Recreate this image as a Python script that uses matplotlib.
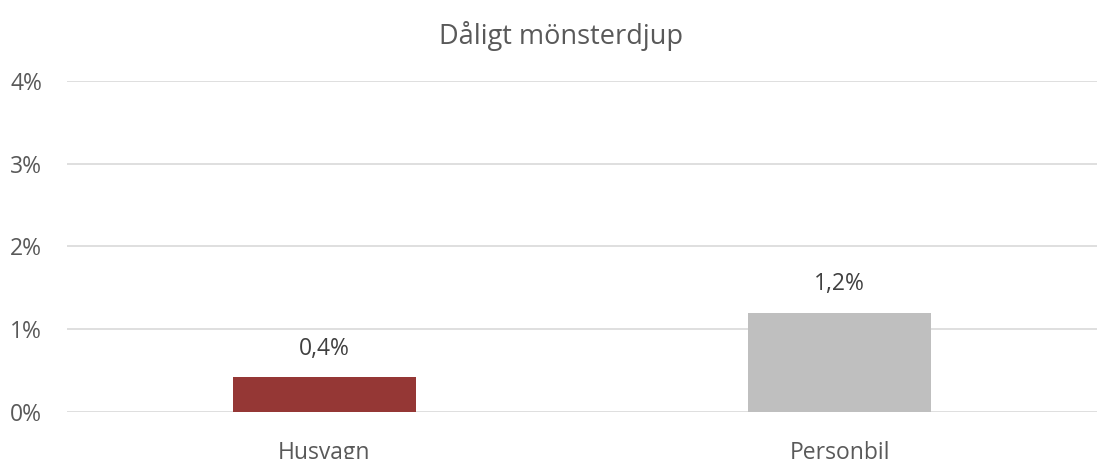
import matplotlib
matplotlib.use("Agg")
import matplotlib.pyplot as plt
from matplotlib.ticker import FuncFormatter

categories = ["Husvagn", "Personbil"]
values = [0.42, 1.2]
value_labels = ["0,4%", "1,2%"]
colors = ["#953735", "#BFBFBF"]
yticks = [0, 1, 2, 3, 4]
title = "Dåligt mönsterdjup"

plt.rcParams['font.family'] = ['Open Sans', 'DejaVu Sans']

fig = plt.figure(figsize=(10.98, 4.59), dpi=100)
ax = fig.add_axes([67/1098, 1 - 412/459, 1030/1098, (412 - 80.7)/459])

x = list(range(len(categories)))
bars = ax.bar(x, values, width=0.355, color=colors, zorder=3)
ax.set_xlim(-0.5, len(categories) - 0.5)
ax.set_ylim(0, 4)
ax.set_yticks(yticks)
ax.yaxis.set_major_formatter(FuncFormatter(lambda v, p: f"{int(v)}%"))
ax.set_xticks(x)
ax.set_xticklabels(categories)
ax.grid(axis='y', color='#D9D9D9', linewidth=1.2, zorder=0)
for s in ax.spines.values():
    s.set_visible(False)
ax.tick_params(axis='both', length=0, labelsize=16.5, colors='#595959')
ax.tick_params(axis='y', pad=18)
ax.tick_params(axis='x', pad=21)

for b, lab in zip(bars, value_labels):
    ax.annotate(lab, (b.get_x() + b.get_width()/2, b.get_height()),
                xytext=(0, 12), textcoords='offset points',
                ha='center', va='bottom', fontsize=16.5, color='#404040')

fig.text(0.5 + 12/1098, 1 - 36/459, title, ha='center', va='center', fontsize=19.5, color='#595959')

fig.savefig("out.png", dpi=100)
